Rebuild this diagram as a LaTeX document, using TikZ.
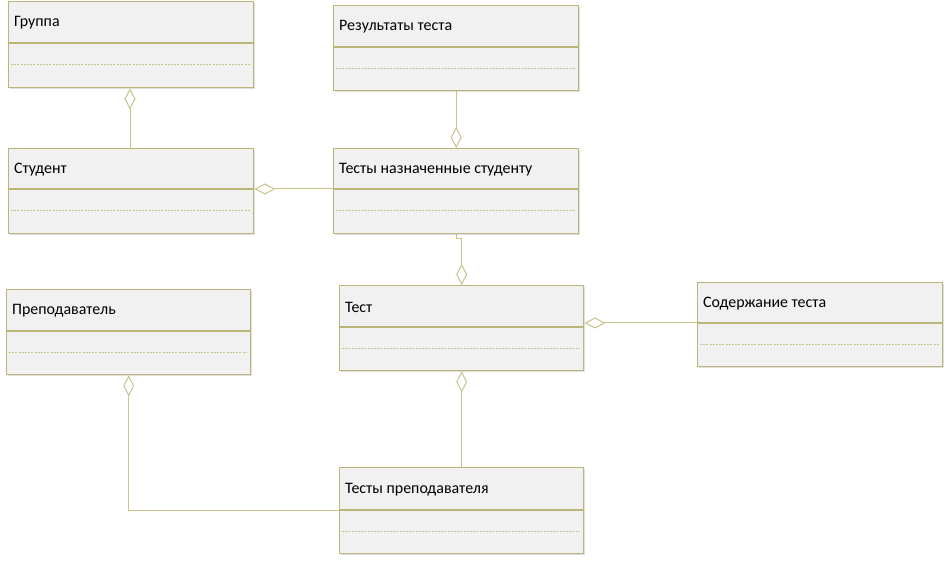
\documentclass[tikz,border=0pt]{standalone}
\usepackage{fontspec}
\setmainfont{Carlito}
\usetikzlibrary{arrows.meta,shadows}
\definecolor{bord}{RGB}{188,181,120}
\definecolor{conn}{RGB}{200,194,140}
\definecolor{boxfill}{RGB}{241,241,241}
\tikzset{
  classbox/.style={draw=bord, line width=1.4bp, fill=boxfill, anchor=north west, inner sep=0,
    drop shadow={opacity=0.25, shadow xshift=1.5bp, shadow yshift=-1.5bp}},
  divider/.style={draw=bord, line width=1.2bp},
  dotline/.style={draw=conn, line width=1bp, dash pattern=on 2bp off 1.2bp},
  title/.style={anchor=west, font=\fontsize{16}{18}\selectfont, inner sep=0},
  agg/.style={draw=conn, line width=1bp, -{Diamond[open, length=21bp, width=11bp, line width=1bp]}},
}
\newcommand\umlcls[7]{% name, x1, y1, x2, y2, divider y, title
  \node[classbox, minimum width=#4bp-#2bp, minimum height=#5bp-#3bp] (#1) at (#2,#3) {};
  \draw[divider] (#2,#6) -- (#4,#6);
  \draw[dotline] (#2+3,{#6+(#5-#6)/2}) -- (#4-3,{#6+(#5-#6)/2});
  \node[title] (#1-t) at (#2+6,{(#3+#6)/2+1}) {#7};
}
\begin{document}
\begin{tikzpicture}[x=1bp,y=-1bp]
\useasboundingbox (0,0) rectangle (948,561);
\fill[white] (0,0) rectangle (948,561);
\umlcls{gr}{8}{1}{253}{87}{43}{Группа}
\umlcls{res}{333}{5}{578}{90}{47}{Результаты теста}
\umlcls{st}{8}{148}{253}{233}{189}{Студент}
\umlcls{tns}{333}{148}{578}{233}{189}{Тесты назначенные студенту}
\umlcls{prep}{6}{289}{250}{374}{331}{Преподаватель}
\umlcls{test}{339}{285}{583}{370}{327}{Тест}
\umlcls{sod}{697}{282}{942}{366}{323}{Содержание теста}
\umlcls{tp}{339}{467}{583}{553}{510}{Тесты преподавателя}

\draw[agg] (st.north -| 130,0) -- (gr.south -| 130,0);
\draw[agg] (res.south) -- (tns.north);
\draw[agg] (tns.west |- 0,189) -- (st.east |- 0,189);
\draw[agg] (tns.south) -- ++(0,4) -| (test.north);
\draw[agg] (sod.west |- 0,323) -- (test.east |- 0,323);
\draw[agg] (tp.north) -- (test.south);
\draw[agg] (tp.west) -| (prep.south);
\end{tikzpicture}
\end{document}
